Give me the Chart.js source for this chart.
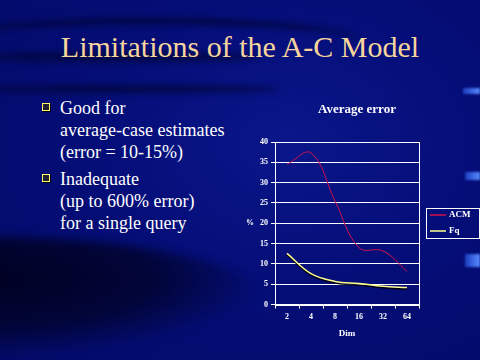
<!DOCTYPE html>
<html>
<head>
<meta charset="utf-8">
<script src="https://cdn.jsdelivr.net/npm/chart.js@4.4.0/dist/chart.umd.min.js"></script>
<style>
  html, body { margin: 0; padding: 0; }
  body {
    width: 480px; height: 360px; overflow: hidden; position: relative;
    background: radial-gradient(ellipse at 60% 40%, #0a168a 0%, #050e78 45%, #030a68 100%);
    font-family: "Liberation Serif", "DejaVu Serif", serif;
  }
  .streak { position: absolute; border-radius: 50%; filter: blur(3px); }
  .glint { position: absolute; background: linear-gradient(90deg, #1a3cc0, #5a8cff); filter: blur(1px); }
  #swoosh {
    position: absolute; left: -320px; top: 236px; width: 580px; height: 120px; border-radius: 50%;
    background: radial-gradient(ellipse at 50% 35%, #000020 0%, #010538 45%, rgba(3,10,104,0) 72%);
    filter: blur(5px);
  }
  #title {
    position: absolute; left: 0; top: 30px; width: 480px; text-align: center;
    color: #f7d49c; font-size: 30px;
  }
  .bullet { position: absolute; left: 60px; color: #fff; font-size: 18px; line-height: 22px; }
  .box {
    position: absolute; left: 42px; width: 6px; height: 6px;
    border: 1px solid #ffff66; background: #202030; box-shadow: 1px 1px 0 #000;
  }
  #wrap { position: absolute; left: 240px; top: 95px; width: 240px; height: 246px; }
</style>
</head>
<body>
<div id="swoosh"></div>
<div class="streak" style="left:-60px; top:18px; width:420px; height:40px; border-top:6px solid #01063f;"></div>
<div class="streak" style="left:-40px; top:52px; width:300px; height:10px; background:#020848;"></div>
<div class="streak" style="left:-40px; top:85px; width:320px; height:8px; background:#020848;"></div>
<div class="glint" style="left:463px; top:88px; width:17px; height:6px;"></div>
<div class="glint" style="left:465px; top:172px; width:15px; height:8px;"></div>
<div class="glint" style="left:465px; top:254px; width:15px; height:13px;"></div>

<div id="title">Limitations of the A-C Model</div>

<div class="box" style="top:103px;"></div>
<div class="bullet" style="top:97px;">Good for<br>average-case estimates<br>(error = 10-15%)</div>
<div class="box" style="top:174px;"></div>
<div class="bullet" style="top:168px;">Inadequate<br>(up to 600% error)<br>for a single query</div>

<div id="wrap"><canvas id="myChart"></canvas></div>

<script>
const dims = ["2", "4", "8", "16", "32", "64"];
const acm = [34.5, 37.3, 25.5, 14, 13.2, 8.2];
const fq = [12.6, 7.6, 5.7, 5.2, 4.5, 4.2];
const yTicks = [0, 5, 10, 15, 20, 25, 30, 35, 40];
const chartTitle = "Average error";

const serif = "'Liberation Serif', 'DejaVu Serif', serif";
Chart.defaults.font.family = serif;
Chart.defaults.color = "#ffffff";

//dark shadow under the Fq line
const shadow = {
  id: "shadow",
  beforeDatasetDraw(chart, args) {
    if (args.index !== 1) return;
    chart.ctx.save();
    chart.ctx.shadowColor = "rgba(0,0,0,0.9)";
    chart.ctx.shadowOffsetY = 1.5;
  },
  afterDatasetDraw(chart, args) {
    if (args.index === 1) chart.ctx.restore();
  }
};

//title, white frame round the plot, boxed legend on the right, and the "%" label
const extras = {
  id: "extras",
  afterDraw(chart) {
    const c = chart.ctx;
    const a = chart.chartArea;
    c.save();
    c.fillStyle = "#ffffff";
    c.textAlign = "center";
    c.textBaseline = "middle";
    c.font = "bold 13px " + serif;
    c.fillText(chartTitle, 117, 15);
    c.textAlign = "left";

    c.strokeStyle = "#ffffff";
    c.lineWidth = 1;
    c.strokeRect(Math.round(a.left) + 0.5, Math.round(a.top) + 0.5, Math.round(a.right - a.left), Math.round(a.bottom - a.top));

    const sets = chart.data.datasets;
    const bx = Math.round(a.right) + 7, bw = 53, bh = 30;
    const by = Math.round((a.top + a.bottom) / 2 - bh / 2);
    c.strokeRect(bx + 0.5, by + 0.5, bw, bh);
    c.font = "bold 9px " + serif;
    sets.forEach((ds, i) => {
      const ly = by + 7 + i * 16;
      c.strokeStyle = ds.borderColor;
      c.lineWidth = 1.5;
      c.beginPath();
      c.moveTo(bx + 4, ly);
      c.lineTo(bx + 20, ly);
      c.stroke();
      c.fillStyle = "#ffffff";
      c.fillText(ds.label, bx + 23, ly);
    });

    c.font = "bold 8px " + serif;
    c.fillStyle = "#ffffff";
    c.fillText("%", 6, chart.scales.y.getPixelForValue(20));
    c.restore();
  }
};

const ctx = document.getElementById("myChart").getContext("2d");
const myChart = new Chart(ctx, {
  type: "line",
  data: {
    labels: dims,
    datasets: [
      {
        label: "ACM",
        data: acm,
        borderColor: "#d0104a",
        borderWidth: 1,
        pointRadius: 0,
        tension: 0.4,
      },
      {
        label: "Fq",
        data: fq,
        borderColor: "#ffff90",
        borderWidth: 1.5,
        pointRadius: 0,
        tension: 0.4,
      },
    ],
  },
  options: {
    responsive: true,
    maintainAspectRatio: false,
    animation: false,
    layout: { padding: { left: 17, right: 61, top: 47, bottom: 2 } },
    plugins: {
      title: { display: false },
      legend: { display: false },
      tooltip: { enabled: false },
    },
    scales: {
      x: {
        offset: true,
        grid: { display: true, offset: true, drawOnChartArea: false, color: "#ffffff", tickLength: 4 },
        border: { color: "#ffffff" },
        ticks: { color: "#ffffff", font: { size: 8, weight: "bold" }, padding: 4 },
        title: { display: true, text: "Dim", color: "#ffffff", font: { size: 9, weight: "bold" }, padding: { top: 2, bottom: 0 } },
      },
      y: {
        min: 0,
        max: 40,
        afterBuildTicks(scale) { scale.ticks = yTicks.map(v => ({ value: v })); },
        grid: { color: "#ffffff", tickLength: 4 },
        border: { color: "#ffffff" },
        ticks: { color: "#ffffff", font: { size: 8, weight: "bold" }, padding: 3 },
      },
    },
  },
  plugins: [shadow, extras],
});
</script>
</body>
</html>
